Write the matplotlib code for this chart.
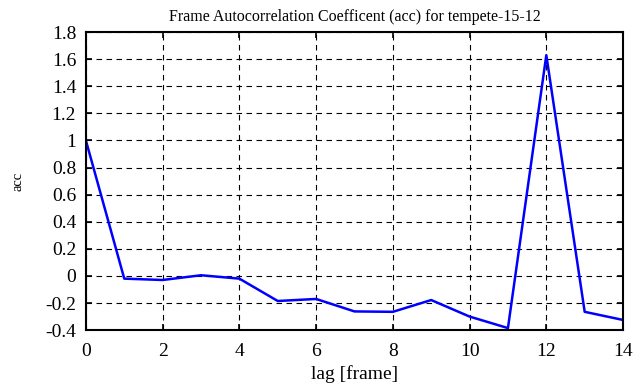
import matplotlib
matplotlib.use("Agg")
import matplotlib.pyplot as plt
from matplotlib.ticker import FuncFormatter

lags = list(range(15))
acc = [1.0, -0.02, -0.03, 0.005, -0.02, -0.185, -0.17, -0.262, -0.265,
       -0.178, -0.30, -0.385, 1.63, -0.265, -0.325]
xticks = [0, 2, 4, 6, 8, 10, 12, 14]
yticks = [-0.4, -0.2, 0, 0.2, 0.4, 0.6, 0.8, 1, 1.2, 1.4, 1.6, 1.8]

plt.rcParams['font.family'] = ['Liberation Serif', 'DejaVu Serif']
plt.rcParams['font.size'] = 14

fig = plt.figure(figsize=(6.41, 3.87), dpi=100)
ax = fig.add_axes([0.134, 0.147, 0.838, 0.770])
ax.plot(lags, acc, color='#0000ff', linewidth=1.8)
ax.set_xlim(0, 14)
ax.set_ylim(-0.4, 1.8)
ax.set_xticks(xticks)
ax.set_yticks(yticks)
ax.yaxis.set_major_formatter(FuncFormatter(lambda v, p: ('%g' % round(v, 2)).replace('\u2212', '-')))
ax.grid(True, color='black', linestyle=(0, (5, 4)), linewidth=0.8)
ax.tick_params(direction='in', top=True, right=True, length=4.5, width=1.2, labelsize=14)
ax.tick_params(axis='x', pad=9)
ax.tick_params(axis='y', pad=7)
for s in ax.spines.values():
    s.set_linewidth(1.5)
ax.set_xlabel('lag [frame]', fontsize=14, labelpad=4)
ax.set_ylabel('acc', fontsize=10.5, labelpad=15)
ax.set_title('Frame Autocorrelation Coefficent (acc) for tempete-15-12', fontsize=11.5, pad=8)
fig.savefig('out.png', dpi=100)
